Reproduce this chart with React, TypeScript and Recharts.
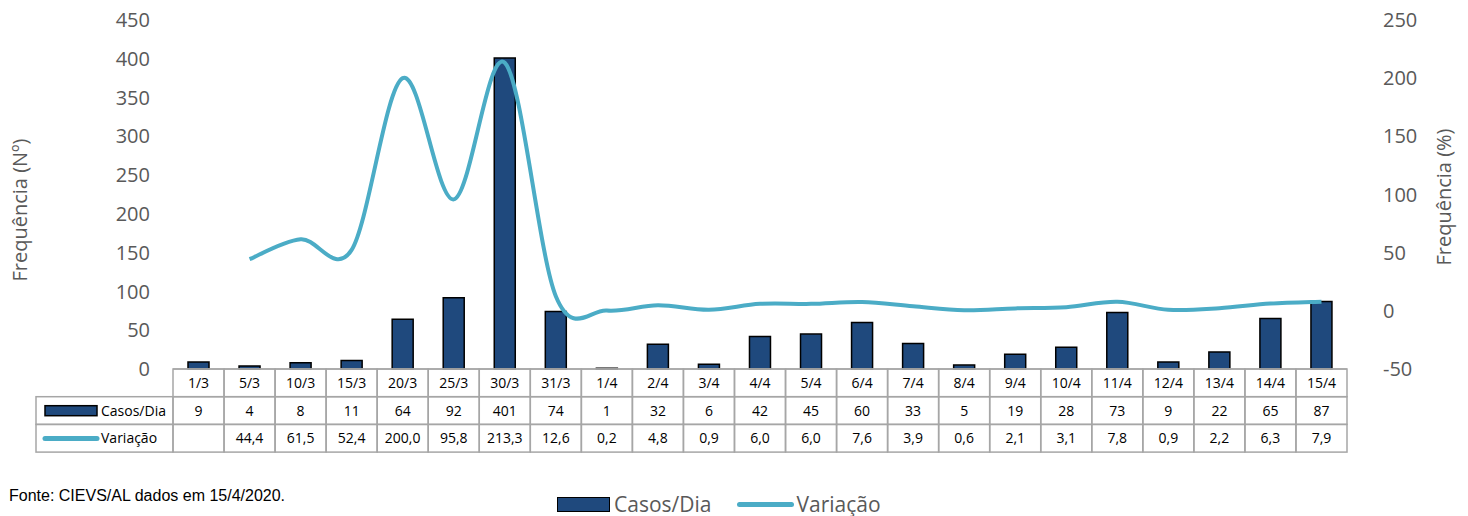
import React from 'react';
import { ComposedChart, Bar, Line, XAxis, YAxis } from 'recharts';

const categories = ['1/3', '5/3', '10/3', '15/3', '20/3', '25/3', '30/3', '31/3', '1/4', '2/4', '3/4', '4/4', '5/4', '6/4', '7/4', '8/4', '9/4', '10/4', '11/4', '12/4', '13/4', '14/4', '15/4'];
const casosDia = [9, 4, 8, 11, 64, 92, 401, 74, 1, 32, 6, 42, 45, 60, 33, 5, 19, 28, 73, 9, 22, 65, 87];
const variacao: (number | null)[] = [null, 44.4, 61.5, 52.4, 200.0, 95.8, 213.3, 12.6, 0.2, 4.8, 0.9, 6.0, 6.0, 7.6, 3.9, 0.6, 2.1, 3.1, 7.8, 0.9, 2.2, 6.3, 7.9];
const leftTicks = [0, 50, 100, 150, 200, 250, 300, 350, 400, 450];
const rightTicks = [-50, 0, 50, 100, 150, 200, 250];

const data = categories.map((c, i) => ({ cat: c, casos: casosDia[i], variacao: variacao[i] }));

const W = 1468;
const H = 516;
const LEFT = 173;
const RIGHT = 121;
const PLOT_W = W - LEFT - RIGHT;
const COL_W = PLOT_W / categories.length;
const ROW_H = 27.7;

const BAR_COLOR = '#1F497D';
const LINE_COLOR = '#4BACC6';
const GRID = '#A6A6A6';
const FONT = '"Open Sans", sans-serif';

const fmt = (v: number | null) => (v == null ? '' : v.toFixed(1).replace('.', ','));

// Excel-like smoothed line (Catmull-Rom through the points)
function excelCurve(context: any) {
  let pts: [number, number][] = [];
  return {
    areaStart() {},
    areaEnd() {},
    lineStart() {
      pts = [];
    },
    point(x: number, y: number) {
      pts.push([+x, +y]);
    },
    lineEnd() {
      if (!pts.length) return;
      context.moveTo(pts[0][0], pts[0][1]);
      for (let i = 0; i < pts.length - 1; i++) {
        const p0 = pts[i - 1] || pts[i];
        const p1 = pts[i];
        const p2 = pts[i + 1];
        const p3 = pts[i + 2] || p2;
        context.bezierCurveTo(
          p1[0] + (p2[0] - p0[0]) / 6,
          p1[1] + (p2[1] - p0[1]) / 6,
          p2[0] - (p3[0] - p1[0]) / 6,
          p2[1] - (p3[1] - p1[1]) / 6,
          p2[0],
          p2[1]
        );
      }
    },
  };
}

function TableTick(props: any) {
  const { x, y, payload } = props;
  const i = payload.index;
  const left = x - COL_W / 2;
  const cell = (row: number, text: string) => (
    <g key={row}>
      <rect x={left} y={y + row * ROW_H} width={COL_W} height={ROW_H} fill="none" stroke={GRID} strokeWidth={1.5} />
      <text x={x} y={y + row * ROW_H + ROW_H / 2 + 5} textAnchor="middle" fontSize={14} fill="#000" fontFamily={FONT}>
        {text}
      </text>
    </g>
  );
  const headW = 137;
  return (
    <g>
      {i === 0 && (
        <g>
          <rect x={left - headW} y={y + ROW_H} width={headW} height={ROW_H} fill="none" stroke={GRID} strokeWidth={1.5} />
          <rect x={left - headW} y={y + 2 * ROW_H} width={headW} height={ROW_H} fill="none" stroke={GRID} strokeWidth={1.5} />
          <rect x={left - headW + 9} y={y + ROW_H + 9} width={52} height={10} fill={BAR_COLOR} stroke="#000" strokeWidth={1.5} />
          <text x={left - headW + 65} y={y + ROW_H + 19} fontSize={14} fill="#000" fontFamily={FONT}>Casos/Dia</text>
          <line x1={left - headW + 9} x2={left - headW + 61} y1={y + 2 * ROW_H + 14} y2={y + 2 * ROW_H + 14} stroke={LINE_COLOR} strokeWidth={5} strokeLinecap="round" />
          <text x={left - headW + 65} y={y + 2 * ROW_H + 19} fontSize={14} fill="#000" fontFamily={FONT}>Variação</text>
        </g>
      )}
      {cell(0, categories[i])}
      {cell(1, String(casosDia[i]))}
      {cell(2, fmt(variacao[i]))}
    </g>
  );
}

const axisTitle = (text: string, cx: number, cy: number) => () => (
  <text x={cx} y={cy} transform={`rotate(-90 ${cx} ${cy})`} textAnchor="middle" dominantBaseline="central" fontSize={20} fill="#595959" fontFamily={FONT}>
    {text}
  </text>
);

export default function App() {
  return (
    <div style={{ position: 'absolute', left: 0, top: 0, width: W, height: H, background: '#fff', fontFamily: FONT }}>
      <ComposedChart width={W} height={H} data={data} margin={{ top: 20, right: 0, bottom: 0, left: 0 }}>
        <XAxis
          dataKey="cat"
          height={147}
          interval={0}
          tickSize={0}
          tickMargin={0}
          axisLine={{ stroke: GRID, strokeWidth: 1.5 }}
          tickLine={false}
          tick={<TableTick />}
        />
        <YAxis
          yAxisId="left"
          width={LEFT}
          domain={[0, 450]}
          ticks={leftTicks}
          axisLine={false}
          tickLine={false}
          tickSize={0}
          tickMargin={23}
          tick={{ fontSize: 20, fill: '#595959', fontFamily: FONT }}
          label={{ content: axisTitle('Frequência (Nº)', 19, 210) }}
        />
        <YAxis
          yAxisId="right"
          orientation="right"
          width={RIGHT}
          domain={[-50, 250]}
          ticks={rightTicks}
          axisLine={false}
          tickLine={false}
          tickSize={0}
          tickMargin={36}
          tick={{ fontSize: 20, fill: '#595959', fontFamily: FONT, textAnchor: 'start' }}
          label={{ content: axisTitle('Frequência (%)', 1443, 197) }}
        />
        <Bar yAxisId="left" dataKey="casos" name="Casos/Dia" fill={BAR_COLOR} stroke="#000" strokeWidth={1.5} barSize={21} isAnimationActive={false} />
        <Line yAxisId="right" dataKey="variacao" name="Variação" type={excelCurve as any} stroke={LINE_COLOR} strokeWidth={4} dot={false} connectNulls={false} isAnimationActive={false} />
      </ComposedChart>
      <div style={{ position: 'absolute', left: 9, top: 487, fontFamily: '"Liberation Sans", Arial, sans-serif', fontSize: 16, color: '#000', whiteSpace: 'nowrap' }}>
        Fonte: CIEVS/AL dados em 15/4/2020.
      </div>
      <div style={{ position: 'absolute', left: 557, top: 490, display: 'flex', alignItems: 'center', fontSize: 21, color: '#595959', fontFamily: FONT, whiteSpace: 'nowrap' }}>
        <span style={{ display: 'inline-block', width: 53, height: 15, background: BAR_COLOR, border: '1.5px solid #000', boxSizing: 'border-box' }} />
        <span style={{ marginLeft: 4 }}>Casos/Dia</span>
        <span style={{ display: 'inline-block', width: 57, height: 5, background: LINE_COLOR, borderRadius: 3, marginLeft: 26 }} />
        <span style={{ marginLeft: 2 }}>Variação</span>
      </div>
    </div>
  );
}
